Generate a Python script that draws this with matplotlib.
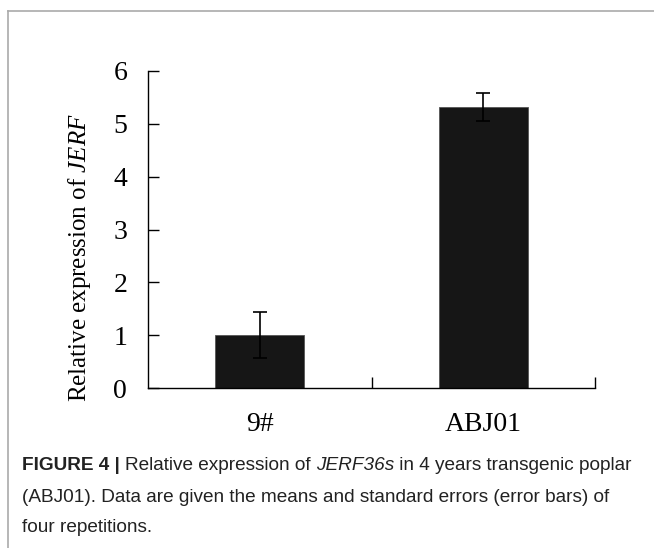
import matplotlib
matplotlib.use("Agg")
import matplotlib.pyplot as plt
from matplotlib.lines import Line2D

categories = ["9#", "ABJ01"]
means = [1.0, 5.32]
errors = [0.43, 0.26]
yticks = [0, 1, 2, 3, 4, 5, 6]

plt.rcParams['mathtext.fontset'] = 'custom'
plt.rcParams['mathtext.rm'] = 'Liberation Serif'
plt.rcParams['mathtext.it'] = 'Liberation Serif:italic'

fig = plt.figure(figsize=(6.54, 5.48), dpi=100)
W, H = 654, 548
ax = fig.add_axes([148 / W, 1 - 388 / H, (595 - 148) / W, (388 - 71) / H])

x = list(range(len(categories)))
ax.bar(x, means, width=0.4, color='#161616', edgecolor='#555555', linewidth=0.6)
ax.errorbar(x, means, yerr=errors, fmt='none', ecolor='black', elinewidth=1.2,
            capsize=5, capthick=1.2)

ax.set_xlim(-0.5, 1.5)
ax.set_ylim(0, 6)
ax.set_yticks(yticks)
ax.set_xticks([0.5, 1.5], minor=False)
ax.set_xticklabels([])
ax.set_xticks(x, minor=True)
ax.set_xticklabels(categories, minor=True, fontsize=20, family='Liberation Serif')
ax.tick_params(axis='x', which='minor', length=0, pad=17)
ax.tick_params(axis='x', which='major', direction='in', length=8, width=1)
ax.tick_params(axis='y', direction='in', length=8, width=1, pad=15)
for lab in ax.get_yticklabels():
    lab.set_fontsize(20)
    lab.set_family('Liberation Serif')
ax.spines['top'].set_visible(False)
ax.spines['right'].set_visible(False)
for s in ['left', 'bottom']:
    ax.spines[s].set_linewidth(1)
ax.set_ylabel(r"Relative expression of $\mathit{JERF}$", fontsize=18,
              family='Liberation Serif')
ax.yaxis.set_label_coords((93 - 148) / 447, (388 - 258) / 317)

# frame around the figure panel
fig.add_artist(Line2D([8 / W, 1], [1 - 11 / H, 1 - 11 / H], color='#aaaaaa', lw=1.2))
fig.add_artist(Line2D([8 / W, 8 / W], [0, 1 - 11 / H], color='#aaaaaa', lw=1.2))

# caption
cap_lines = [
    [("FIGURE 4 | ", 'bold', 'normal'), ("Relative expression of ", 'normal', 'normal'),
     ("JERF36s", 'normal', 'italic'), (" in 4 years transgenic poplar", 'normal', 'normal')],
    [("(ABJ01). Data are given the means and standard errors (error bars) of", 'normal', 'normal')],
    [("four repetitions.", 'normal', 'normal')],
]
cap_y = [466, 497, 528]
fig.canvas.draw()
renderer = fig.canvas.get_renderer()
for parts, yy in zip(cap_lines, cap_y):
    xpos = 22
    for txt, wt, st in parts:
        t = fig.text(xpos / W, 1 - yy / H, txt, fontsize=13.7, family='Liberation Sans',
                     weight=wt, style=st, color='#222222', va='center', ha='left')
        bb = t.get_window_extent(renderer)
        xpos += bb.width

fig.savefig("out.png", dpi=100)
